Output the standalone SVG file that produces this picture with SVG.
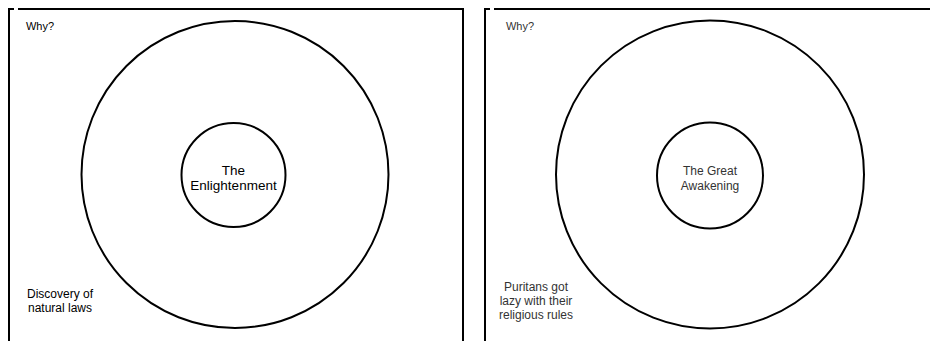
<svg xmlns="http://www.w3.org/2000/svg" width="930" height="341" viewBox="0 0 930 341">
<style>
.frame{fill:none;stroke:#000;stroke-width:2}
.ring{fill:none;stroke:#000;stroke-width:2}
.dark{font-family:"Liberation Sans",Arial,sans-serif;fill:#000;text-anchor:middle}
.grey{font-family:"Liberation Sans",Arial,sans-serif;fill:#333;text-anchor:middle}
</style>
<rect width="930" height="341" fill="#fff"/>
<g id="left-panel">
  <path class="frame" d="M9,341 V9 H14 M18,9 H463 V341"/>
  <circle class="ring" cx="235" cy="174.5" r="153.5"/>
  <text class="dark" x="40" y="30" font-size="11">Why?</text>
  <text class="dark" x="60" y="297.5" font-size="12">Discovery of</text>
  <text class="dark" x="60" y="311.5" font-size="12">natural laws</text>
</g>
<g id="enlightenment">
  <circle class="ring" cx="233.5" cy="175" r="52"/>
  <text class="dark" x="233.5" y="175" font-size="13.5">The</text>
  <text class="dark" x="233.5" y="190" font-size="13.5">Enlightenment</text>
</g>
<g id="right-panel">
  <path class="frame" d="M485,341 V9 H490 M494,9 H930"/>
  <circle class="ring" cx="710" cy="174.5" r="154"/>
  <text class="grey" x="520" y="30" font-size="11">Why?</text>
  <text class="grey" x="536" y="290.5" font-size="12">Puritans got</text>
  <text class="grey" x="536" y="305" font-size="12">lazy with their</text>
  <text class="grey" x="536" y="318.5" font-size="12">religious rules</text>
</g>
<g id="great-awakening">
  <circle class="ring" cx="710" cy="175.5" r="53"/>
  <text class="grey" x="710" y="175" font-size="12">The Great</text>
  <text class="grey" x="710" y="189.5" font-size="12">Awakening</text>
</g>
<g id="connectors"></g>
</svg>
